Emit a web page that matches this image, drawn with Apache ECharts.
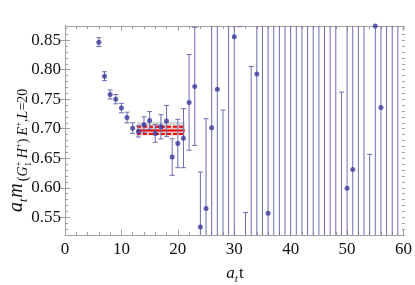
<!DOCTYPE html>
<html><head><meta charset="utf-8">
<script src="https://cdn.jsdelivr.net/npm/echarts@6/dist/echarts.min.js"></script>
<style>html,body{margin:0;padding:0;background:#fff}#c{width:415px;height:285px}</style>
</head><body><div id="c"></div>
<script>
// ---- data ----
const ts   = [6,7,8,9,10,11,12,13,14,15,16,17,18,19,20,21,22,23,24,25,26,27,28,29,30,31,32,33,34,35,36,37,38,39,40,41,42,43,44,45,46,47,48,49,50,51,52,53,54,55,56,57,58,59];
const vals = [0.8466,0.789,0.758,0.750,0.735,0.719,0.701,0.6955,0.7067,0.714,0.692,0.7033,0.713,0.652,0.675,0.684,0.7446,0.7717,0.5336,0.565,0.7016,0.767,0.40,0.35,0.8556,1.00,0.40,0.45,0.7925,1.00,0.557,0.35,1.05,0.30,1.00,0.35,1.05,0.40,1.00,0.30,1.05,0.35,1.00,0.40,0.599,0.631,1.00,0.30,0.35,0.874,0.736,1.05,0.35,1.00];
const errs = [0.0075,0.0075,0.0076,0.0078,0.008,0.009,0.009,0.0095,0.0135,0.015,0.015,0.0205,0.0265,0.031,0.041,0.050,0.081,0.100,0.093,0.152,0.25,0.30,0.3316,0.6,0.45,0.127,0.158,0.3555,0.5,0.6,0.5,0.7,0.7,0.7,0.6,0.7,0.7,0.6,0.6,0.7,0.7,0.7,0.6,0.362,0.6,0.6,0.6,0.7,0.3066,0.6,0.6,0.7,0.7,0.6];
const fitRange = [12.75, 21.25];
const fitValue = 0.6972;
const fitErr   = 0.006;
const fitBand  = [0.6885, 0.7115];
const xTicks = [0,10,20,30,40,50,60];
const yTicks = [0.55,0.60,0.65,0.70,0.75,0.80,0.85];

// ---- style ----
const frameColor = '#a0a0a0';
const errColor = '#6c6cb4';
const ptColor = '#3a3a9c';
const serif = '"Liberation Serif","DejaVu Serif",serif';
const G = {left:65, right:10, top:26, bottom:50};
const yMin = 0.52, yMax = 0.874;

const chart = echarts.init(document.getElementById('c'), null, {renderer:'canvas'});

function errItem(params, api){
  const t = api.value(0), v = api.value(1), e = api.value(2);
  const cs = params.coordSys;
  const x = api.coord([t, v])[0];
  const top = api.coord([t, v + e])[1], bot = api.coord([t, v - e])[1];
  const y0 = cs.y, y1 = cs.y + cs.height;
  const ch = [];
  const a = Math.max(top, y0), b = Math.min(bot, y1);
  const st = {stroke: errColor, lineWidth: 1};
  if (a < b) ch.push({type:'line', shape:{x1:x, y1:a, x2:x, y2:b}, style:st});
  if (top >= y0 && top <= y1) ch.push({type:'line', shape:{x1:x-2.5, y1:top, x2:x+2.5, y2:top}, style:st});
  if (bot >= y0 && bot <= y1) ch.push({type:'line', shape:{x1:x-2.5, y1:bot, x2:x+2.5, y2:bot}, style:st});
  return {type:'group', children: ch};
}
function bandItem(params, api){
  const x0 = api.coord([api.value(0), fitValue])[0];
  const x1 = api.coord([api.value(1), fitValue])[0];
  const yc = api.coord([0, fitValue])[1];
  const yu = api.coord([0, fitValue + fitErr])[1];
  const yl = api.coord([0, fitValue - fitErr])[1];
  const gb = api.coord([0, fitBand[1]])[1];
  const gl = api.coord([0, fitBand[0]])[1];
  return {type:'group', children:[
    {type:'rect', shape:{x:x0, y:gb, width:x1-x0, height:gl-gb}, style:{fill:'rgba(190,190,190,0.6)'}},
    {type:'rect', shape:{x:x0, y:yu, width:x1-x0, height:yl-yu}, style:{fill:'rgba(255,170,170,0.25)'}},
    {type:'line', shape:{x1:x0, y1:yu, x2:x1, y2:yu}, style:{stroke:'#ff0000', lineWidth:2, lineDash:[4,2]}},
    {type:'line', shape:{x1:x0, y1:yl, x2:x1, y2:yl}, style:{stroke:'#ff0000', lineWidth:2, lineDash:[4,2]}},
    {type:'line', shape:{x1:x0, y1:yc, x2:x1, y2:yc}, style:{stroke:'#ff0000', lineWidth:2}}
  ]};
}

// ---- rotated / composite axis titles ----
const mctx = document.createElement('canvas').getContext('2d');
function F(sz, it){ return (it ? 'italic ' : '') + sz + 'px ' + serif; }
function W(s, f){ mctx.font = f; return mctx.measureText(s).width; }
function layout(tokens){
  let cx = 0; const out = [];
  tokens.forEach(tk => {
    if (tk.stack){
      let w = 0;
      tk.stack.forEach(s => { out.push({type:'text', x:cx, y:s.dy - 0.3*s.sz, style:{text:s.s, font:F(s.sz,s.it), fill:'#111', textAlign:'left', textVerticalAlign:'middle', align:'left', verticalAlign:'middle'}}); w = Math.max(w, W(s.s, F(s.sz,s.it))); });
      cx += w;
    } else {
      cx += (tk.gap || 0);
      out.push({type:'text', x:cx, y:tk.dy - 0.3*tk.sz, style:{text:tk.s, font:F(tk.sz,tk.it), fill:'#111', textAlign:'left', textVerticalAlign:'middle', align:'left', verticalAlign:'middle'}});
      cx += W(tk.s, F(tk.sz, tk.it));
    }
  });
  return {children: out, width: cx};
}
const yTitle = layout([
  {s:'a', sz:20, it:true, dy:0},
  {s:'t', sz:12, it:true, dy:4},
  {s:'m', sz:20, it:true, dy:0, gap:1},
  {s:'(', sz:14, it:false, dy:5, gap:2},
  {s:'G', sz:14, it:true, dy:5},
  {stack:[{s:'+', sz:9, it:false, dy:-2},{s:'1', sz:9, it:false, dy:8}]},
  {s:'H', sz:14, it:true, dy:5, gap:3},
  {s:'+', sz:9, it:false, dy:-2},
  {s:')', sz:14, it:false, dy:5},
  {s:'E', sz:14, it:true, dy:5, gap:3},
  {s:'+', sz:9, it:false, dy:-2},
  {s:',', sz:14, it:false, dy:5},
  {s:'L', sz:14, it:true, dy:5},
  {s:'=20', sz:14, it:false, dy:5}
]);
const xTitle = layout([
  {s:'a', sz:17, it:true, dy:0},
  {s:'t', sz:11, it:true, dy:3},
  {s:'t', sz:17, it:false, dy:0, gap:1}
]);

const axCommon = {
  min:0, max:60, interval:10,
  axisLine:{show:true, lineStyle:{color:frameColor, width:1}},
  splitLine:{show:false}, minorSplitLine:{show:false}
};
const option = {
  animation:false,
  grid:[
    {left:G.left, right:G.right, top:G.top, bottom:G.bottom, containLabel:false},
    {left:G.left, right:G.right, top:G.top, bottom:G.bottom, containLabel:false}
  ],
  xAxis:[
    Object.assign({}, axCommon, {gridIndex:0, type:'value', position:'bottom',
      axisTick:{inside:true, length:5, lineStyle:{color:frameColor}},
      minorTick:{show:true, splitNumber:5, length:3, lineStyle:{color:frameColor}},
      axisLabel:{color:'#111', fontSize:17, fontFamily:serif, margin:6, customValues:xTicks}}),
    Object.assign({}, axCommon, {gridIndex:0, type:'value', position:'top',
      axisTick:{inside:true, length:5, lineStyle:{color:frameColor}},
      minorTick:{show:true, splitNumber:5, length:3, lineStyle:{color:frameColor}},
      axisLabel:{show:false}}),
    {gridIndex:1, type:'value', min:0, max:60, show:false}
  ],
  yAxis:[
    {gridIndex:0, type:'value', position:'left', min:yMin, max:yMax,
      axisLine:{show:true, lineStyle:{color:frameColor}},
      axisTick:{inside:true, length:5, customValues:yTicks, lineStyle:{color:frameColor}},
      axisLabel:{color:'#111', fontSize:17, fontFamily:serif, margin:4, customValues:yTicks, formatter:v => v.toFixed(2)},
      splitLine:{show:false}},
    {gridIndex:0, type:'value', position:'right', min:yMin, max:yMax,
      axisLine:{show:true, lineStyle:{color:frameColor}},
      axisTick:{inside:true, length:5, customValues:yTicks, lineStyle:{color:frameColor}},
      axisLabel:{show:false}, splitLine:{show:false}},
    {gridIndex:1, type:'value', position:'left', min:yMin, max:yMax, interval:0.01,
      axisLine:{show:false}, axisLabel:{show:false}, splitLine:{show:false},
      axisTick:{inside:true, length:3, lineStyle:{color:frameColor}}},
    {gridIndex:1, type:'value', position:'right', min:yMin, max:yMax, interval:0.01,
      axisLine:{show:false}, axisLabel:{show:false}, splitLine:{show:false},
      axisTick:{inside:true, length:3, lineStyle:{color:frameColor}}}
  ],
  series:[
    {type:'custom', xAxisIndex:0, yAxisIndex:0, renderItem:bandItem, data:[[fitRange[0], fitRange[1]]], encode:{x:[0,1]}, z:1, silent:true},
    {type:'custom', xAxisIndex:0, yAxisIndex:0, renderItem:errItem, data:ts.map((t,i)=>[t, vals[i], errs[i]]), encode:{x:0, y:1}, z:2, silent:true},
    {type:'scatter', xAxisIndex:0, yAxisIndex:0, data:ts.map((t,i)=>[t, vals[i]]), symbol:'circle', symbolSize:5, itemStyle:{color:ptColor}, clip:true, z:3, silent:true}
  ],
  graphic:[
    {type:'group', x:23, y:212, rotation:Math.PI/2, children:yTitle.children},
    {type:'group', x:235 - xTitle.width/2, y:279, children:xTitle.children}
  ]
};
chart.setOption(option);
</script>
</body></html>
